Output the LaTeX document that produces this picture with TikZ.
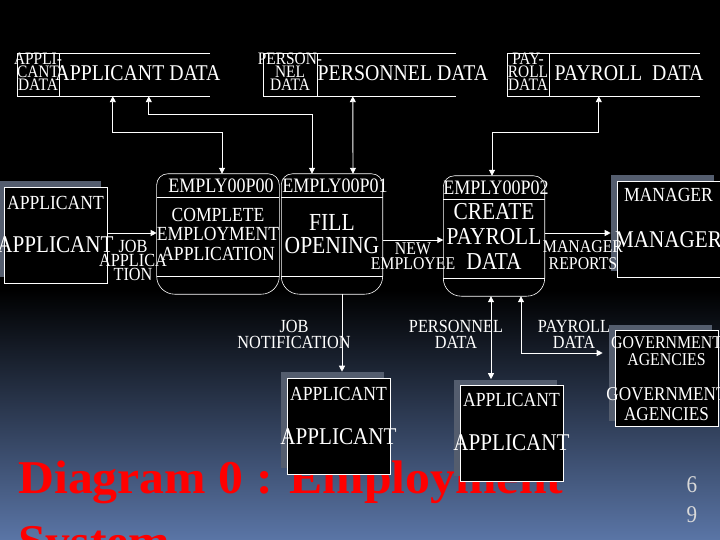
\documentclass[tikz,border=0pt]{standalone}
\usepackage{fontspec}
\setmainfont{Liberation Serif}[FakeStretch=0.88]
\newfontfamily\titlefont{Liberation Serif}[FakeStretch=1.06]
\usetikzlibrary{arrows.meta,calc,shadows}
\definecolor{slategrey}{HTML}{545D6E}
\definecolor{darknavy}{HTML}{252F45}
\definecolor{steelblue}{HTML}{5A75A6}
\definecolor{pagegrey}{HTML}{D9D9D9}

\begin{document}
\begin{tikzpicture}[x=1pt, y=-1pt,
  every node/.style={text=white, inner sep=0pt},
  shape line/.style={draw=white, line width=0.6pt},
  flow/.style={draw=white, line width=0.9pt, >={Triangle[length=6pt,width=6pt]}},
  entity/.style={shape line, fill=black, minimum width=103pt, minimum height=96pt,
    general shadow={fill=slategrey, shadow xshift=-6pt, shadow yshift=6pt}},
  entcap/.style={font=\fontsize{20}{17}\selectfont, align=center},
  entname/.style={font=\fontsize{24}{20}\selectfont, align=center},
  process/.style={minimum width=101pt, minimum height=120pt, align=center},
  procid/.style={font=\fontsize{20.5}{20}\selectfont},
  store/.style={minimum width=193pt, minimum height=42pt},
  storetxt/.style={font=\fontsize{22.5}{24}\selectfont},
  storeid/.style={font=\fontsize{17.5}{13}\selectfont, align=center},
  flowtxt/.style={font=\fontsize{18.5}{16}\selectfont, align=center},
  titletxt/.style={font=\titlefont\bfseries\fontsize{47}{64}\selectfont, text=red, anchor=base west}]
\useasboundingbox (0,0) rectangle (720,540);
\fill[black] (0,0) rectangle (720,540);
\shade[top color=black, middle color=darknavy, bottom color=steelblue] (0,290) rectangle (720,540);

% title and page number
\node[titletxt] (title1) at (18,493) {Diagram 0 : Employment};
\node[titletxt] (title2) at (18,557) {System};
\node[font=\fontsize{24}{30}\selectfont, align=center, text=pagegrey] (pgnum) at (692,500) {6\\9};

% data stores
\node[store] (appdata) at (113.5,75) {};
\node[store] (perdata) at (359.5,75) {};
\node[store] (paydata) at (603.5,75) {};
\foreach \s/\d in {appdata/42, perdata/54, paydata/42} {
  \draw[shape line] (\s.north east) -- (\s.north west) -- (\s.south west) -- (\s.south east);
  \draw[shape line] ($(\s.north west)+(\d,0)$) -- ($(\s.south west)+(\d,0)$);
}
\node[storeid] (appdataid) at (38,72) {APPLI-\\CANT\\DATA};
\node[storeid] (perdataid) at (290,72) {PERSON-\\NEL\\DATA};
\node[storeid] (paydataid) at (528,72) {PAY-\\ROLL\\DATA};
\node[storetxt] (appdatatxt) at (138,73) {APPLICANT DATA};
\node[storetxt] (perdatatxt) at (403,73) {PERSONNEL DATA};
\node[storetxt] (paydatatxt) at (629,73) {PAYROLL~~DATA};

% processes
\node[process, font=\fontsize{20}{19.5}\selectfont] (p0) at (218,234) {COMPLETE\\EMPLOYMENT\\APPLICATION};
\node[process, font=\fontsize{24.5}{23}\selectfont] (p1) at (332,234) {FILL\\OPENING};
\node[process, font=\fontsize{24.3}{25}\selectfont] (p2) at (494,236) {CREATE\\PAYROLL\\DATA};
\foreach \p in {p0,p1,p2} {
  \draw[shape line, rounded corners=11pt] (\p.west) |- (\p.north) -| (\p.east);
  \draw[shape line, rounded corners=18pt] (\p.west) |- (\p.south) -| (\p.east);
  \draw[shape line] ($(\p.north west)+(0,24)$) -- ($(\p.north east)+(0,24)$);
  \draw[shape line] ($(\p.south west)+(0,-18)$) -- ($(\p.south east)+(0,-18)$);
}
\node[procid] (p0id) at ($(p0.north)+(3,12)$) {EMPLY00P00};
\node[procid] (p1id) at ($(p1.north)+(3,12)$) {EMPLY00P01};
\node[procid] (p2id) at ($(p2.north)+(2,12)$) {EMPLY00P02};

% external entities
\node[entity] (appl1) at (55.5,235) {};
\node[entcap] (appl1cap) at ($(appl1.north)+(0,16)$) {APPLICANT};
\node[entname] (appl1name) at ($(appl1)+(0,10)$) {APPLICANT};
\node[entity] (mgr) at (668.5,229) {};
\node[entcap] (mgrcap) at ($(mgr.north)+(0,14)$) {MANAGER};
\node[entname] (mgrname) at ($(mgr)+(0,11)$) {MANAGER};
\node[entity] (gov) at (666.5,378.5) {};
\node[entcap, font=\fontsize{18}{17}\selectfont] (govcap) at ($(gov.north)+(0,20.5)$) {GOVERNMENT\\AGENCIES};
\node[entname, font=\fontsize{19.5}{20}\selectfont] (govname) at ($(gov)+(0,25.5)$) {GOVERNMENT\\AGENCIES};
\node[entity] (appl2) at (338.5,426) {};
\node[entcap] (appl2cap) at ($(appl2.north)+(0,16)$) {APPLICANT};
\node[entname] (appl2name) at ($(appl2)+(0,11)$) {APPLICANT};
\node[entity] (appl3) at (511.5,433.5) {};
\node[entcap] (appl3cap) at ($(appl3.north)+(0,15)$) {APPLICANT};
\node[entname] (appl3name) at ($(appl3)+(0,9.5)$) {APPLICANT};

% flows to and from the stores
\draw[flow,<->] ($(appdata.south west)+(96,0)$) -- ++(0,36) -| ($(p0.north)+(4,0)$);
\draw[flow,<->] ($(appdata.south west)+(132,0)$) -- ++(0,18) -| ($(p1.north)+(-20,0)$);
\draw[flow,<->] ($(perdata.south west)+(90,0)$) -- ($(p1.north)+(21,0)$);
\draw[flow,<->] ($(paydata.south west)+(92,0)$) -- ++(0,36) -| ($(p2.north)+(-2,0)$);

% flows between processes and entities
\coordinate (p0in) at ($(p0.west)+(0,-1)$);
\draw[flow,->] (appl1.east |- p0in) -- (p0in);
\node[flowtxt, font=\fontsize{18.5}{14}\selectfont] (jobapp) at (133,260) {JOB\\APPLICA\\TION};
\draw[flow,->] ($(p1.east)+(0,6)$) -- ($(p2.west)+(0,4)$);
\node[flowtxt, font=\fontsize{18}{15}\selectfont] (newemp) at (413,256.5) {NEW\\EMPLOYEE};
\coordinate (mgrin) at ($(mgr.west)+(-6,4)$);
\draw[flow,->] (p2.east |- mgrin) -- (mgrin);
\node[flowtxt, font=\fontsize{18}{17}\selectfont] (mgrrep) at (583,255.5) {MANAGER\\REPORTS};
\coordinate (appl2in) at ($(appl2.north)+(3.5,-6)$);
\draw[flow,->] (p1.south -| appl2in) -- (appl2in);
\node[flowtxt] (jobnote) at (294,334) {JOB\\NOTIFICATION};
\coordinate (appl3in) at ($(appl3.north)+(-20.5,-6)$);
\draw[flow,<->] (p2.south -| appl3in) -- (appl3in);
\node[flowtxt] (perflow) at (456,334) {PERSONNEL\\DATA};
\coordinate (govin) at ($(gov.west)+(-12,-25.5)$);
\draw[flow,<->] ($(p2.south)+(27,0)$) |- (govin);
\node[flowtxt] (payflow) at (574,334) {PAYROLL\\DATA};
\end{tikzpicture}
\end{document}
